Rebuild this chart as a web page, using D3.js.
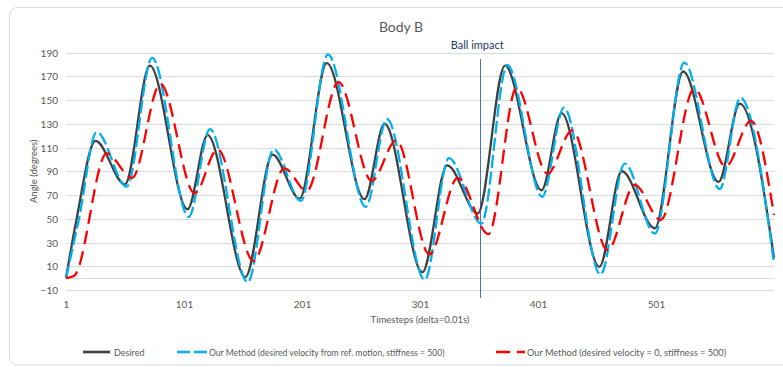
<!DOCTYPE html>
<html><head><meta charset="utf-8">
<script src="https://cdn.jsdelivr.net/npm/d3@7"></script>
<style>
body{margin:0;background:#fff;overflow:hidden}
text{font-family:Lato,"Liberation Sans",sans-serif;fill:#595959}
</style>
</head><body>
<svg id="chart" width="783" height="367"></svg>
<script>
// ---- data ----
const chartTitle = "Body B";
const xTickValues = [1, 101, 201, 301, 401, 501];
const yTickValues = [-10, 10, 30, 50, 70, 90, 110, 130, 150, 170, 190];
const impactStep = 352;
const impactLabel = "Ball impact";

const desiredSteps  = [1, 10, 26, 51, 72, 104, 121, 153, 176, 199, 222, 254, 271, 303, 324, 350, 373, 404, 421, 453, 472, 500, 524, 554, 572, 601];
const desiredValues = [0, 50, 115.5, 79, 179, 58, 120.5, 1, 104, 67, 181, 66.5, 130, 5, 95, 54.5, 179, 74, 139, 9.5, 90, 42, 174, 81, 147, 17];

const refVelSteps  = [1, 12, 27, 52.5, 74, 105, 123, 155, 177, 200, 223, 255, 273, 305, 325.5, 353, 375, 404.5, 423, 454, 474.5, 500, 525, 555, 572.5, 601];
const refVelValues = [0, 50, 123, 77, 185.5, 51.5, 125.5, -3.5, 108.5, 65, 188.5, 60, 134, -1.5, 101, 46, 179.5, 68.5, 143.5, 3, 96.5, 37.5, 181.5, 75, 152, 12.5];

const zeroVelSteps  = [1, 8, 35.5, 57, 81, 110, 129.5, 160, 186, 205, 232, 260, 281, 309, 333, 359, 383, 409, 430, 460, 483, 505, 533.5, 560, 581.5, 601];
const zeroVelValues = [0, 2, 105, 84.5, 163.5, 71.5, 108.5, 14.5, 92.5, 73.5, 165, 82, 116, 20, 84.5, 37, 160.5, 88, 124.5, 23.5, 78.5, 49, 159.5, 94, 132.5, 53];

const seriesNames = ["Desired",
  "Our Method (desired velocity from ref. motion, stiffness = 500)",
  "Our Method (desired velocity = 0, stiffness = 500)"];
const seriesColors = ["#404040", "#00B0F0", "#FF0000"];

// ---- drawing ----
const svg = d3.select("#chart");
const plot = {left: 66, right: 774, top: 52.5, bottom: 290};
const x = d3.scaleLinear().domain([1, 601]).range([plot.left, plot.right]);
const y = d3.scaleLinear().domain([-10, 190]).range([plot.bottom, plot.top]);

// chart frame
svg.append("rect").attr("x", 9.5).attr("y", 7.5).attr("width", 800).attr("height", 357.5)
  .attr("rx", 8).attr("fill", "#fff").attr("stroke", "#d9d9d9").attr("stroke-width", 1);

// gridlines
const grid = svg.append("g");
grid.selectAll("line").data(yTickValues.concat([0])).join("line")
  .attr("x1", plot.left).attr("x2", plot.right)
  .attr("y1", d => Math.round(y(d)) + 0.5).attr("y2", d => Math.round(y(d)) + 0.5)
  .attr("stroke", "#d9d9d9").attr("stroke-width", 1);

// y axis labels
const yAxis = d3.axisLeft(y).tickValues(yTickValues).tickSize(0).tickPadding(0);
const gy = svg.append("g").attr("transform", `translate(${plot.left - 8},0)`).call(yAxis);
gy.select(".domain").remove();
gy.selectAll("text").style("font-size", "10px").attr("fill", "#595959").attr("dy", "0.35em");

// x axis labels
const xAxis = d3.axisBottom(x).tickValues(xTickValues).tickSize(0).tickPadding(0).tickFormat(d3.format("d"));
const gx = svg.append("g").attr("transform", `translate(0,${plot.bottom + 18})`).call(xAxis);
gx.select(".domain").remove();
gx.selectAll("text").style("font-size", "10px").attr("fill", "#595959").attr("dy", 0);

// axis titles
svg.append("text").attr("x", 420).attr("y", 323).attr("text-anchor", "middle")
  .style("font-size", "9.5px").text("Timesteps (delta=0.01s)");
svg.append("text").attr("transform", `translate(37,${(plot.top + plot.bottom) / 2}) rotate(-90)`)
  .attr("text-anchor", "middle").style("font-size", "9.5px").text("Angle (degrees)");

// title
svg.append("text").attr("x", 401).attr("y", 32).attr("text-anchor", "middle")
  .style("font-size", "14px").text(chartTitle);

// impact line
svg.append("line").attr("x1", Math.round(x(impactStep)) + 0.5).attr("x2", Math.round(x(impactStep)) + 0.5)
  .attr("y1", y(184.5)).attr("y2", y(-16.7)).attr("stroke", "#4472C4").attr("stroke-width", 1);
svg.append("text").attr("x", x(impactStep) - 3).attr("y", 49).attr("text-anchor", "middle")
  .style("font-size", "11px").style("fill", "#203864").text(impactLabel);

// series
const series = [
  {steps: desiredSteps, values: desiredValues, dash: null},
  {steps: refVelSteps, values: refVelValues, dash: "13,4"},
  {steps: zeroVelSteps, values: zeroVelValues, dash: "14,7"}
];
const line = d3.line().x(d => x(d[0])).y(d => y(d[1])).curve(d3.curveMonotoneX);
series.forEach((s, i) => {
  svg.append("path").datum(s.steps.map((st, k) => [st, s.values[k]]))
    .attr("d", line).attr("fill", "none").attr("stroke", seriesColors[i])
    .attr("stroke-width", 2.3).attr("stroke-dasharray", s.dash)
    .attr("stroke-linejoin", "round");
});

// legend
const legendItems = [
  {x1: 83, x2: 110, tx: 114, fs: 9},
  {x1: 177, x2: 207, tx: 209, fs: 8.6},
  {x1: 496, x2: 525, tx: 527, fs: 9.2}
];
const lg = svg.append("g");
legendItems.forEach((it, i) => {
  lg.append("line").attr("x1", it.x1).attr("x2", it.x2).attr("y1", 352).attr("y2", 352)
    .attr("stroke", seriesColors[i]).attr("stroke-width", 2.6)
    .attr("stroke-dasharray", series[i].dash);
  lg.append("text").attr("x", it.tx).attr("y", 355.5).style("font-size", it.fs + "px").text(seriesNames[i]);
});
</script>
</body></html>
